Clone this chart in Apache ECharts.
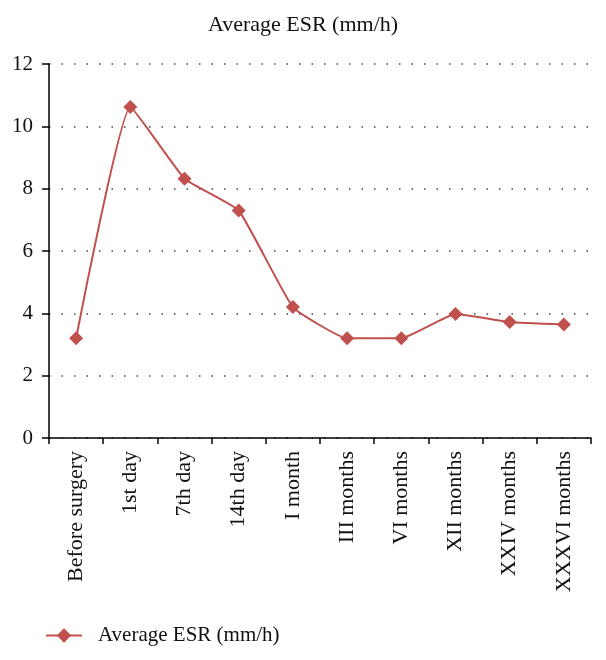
<!DOCTYPE html>
<html><head><meta charset="utf-8">
<script src="https://cdn.jsdelivr.net/npm/echarts@6/dist/echarts.min.js"></script>
<style>html,body{margin:0;padding:0;background:#fff}#c{width:606px;height:660px}</style>
</head><body><div id="c"></div>
<script>
var categories = ["Before surgery","1st day","7th day","14th day","I month","III months","VI months","XII months","XXIV months","XXXVI months"];
var esrValues = [3.2, 10.62, 8.32, 7.3, 4.2, 3.2, 3.2, 3.98, 3.72, 3.64];
var yTicks = {min: 0, max: 12, interval: 2};
var seriesName = "Average ESR (mm/h)";
var font = "'Liberation Serif', 'DejaVu Serif', serif";
var chart = echarts.init(document.getElementById('c'));
chart.setOption({
  animation: false,
  title: {text: seriesName, left: 'center', top: 9, textStyle: {fontFamily: font, fontWeight: 'normal', fontSize: 22, color: '#111'}},
  grid: {left: 49, right: 15, top: 64, bottom: 222, containLabel: false},
  legend: {left: 40, top: 620, itemWidth: 36, itemHeight: 18,
    textStyle: {fontFamily: font, fontSize: 21, color: '#111', padding: [0, 0, 0, 11]}, data: [seriesName]},
  xAxis: {type: 'category', data: categories, boundaryGap: true,
    axisLine: {lineStyle: {color: '#000', width: 1.5}},
    axisTick: {show: true, length: 6, lineStyle: {color: '#000', width: 1.5}},
    axisLabel: {rotate: 90, fontFamily: font, fontSize: 22, color: '#111', margin: 13, interval: 0},
    splitLine: {show: false}},
  yAxis: {type: 'value', min: yTicks.min, max: yTicks.max, interval: yTicks.interval,
    axisLine: {show: true, lineStyle: {color: '#000', width: 1.5}},
    axisTick: {show: true, length: 7, lineStyle: {color: '#000', width: 1.5}},
    axisLabel: {fontFamily: font, fontSize: 21, color: '#111', margin: 16},
    splitLine: {show: true, lineStyle: {color: '#444', type: [1.5, 11], width: 1.5}}},
  series: [{name: seriesName, type: 'line', data: esrValues, smooth: 0.12,
    symbol: 'diamond', symbolSize: 14,
    lineStyle: {color: '#C0504D', width: 2},
    itemStyle: {color: '#C0504D'}}]
});
</script></body></html>
